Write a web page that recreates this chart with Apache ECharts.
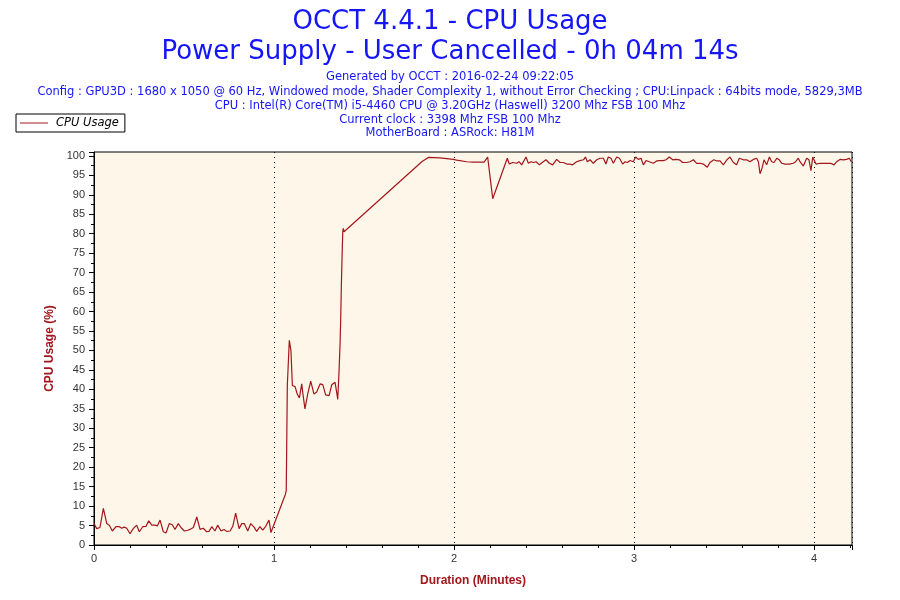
<!doctype html>
<html>
<head>
<meta charset="UTF-8">
<title>OCCT 4.4.1 - CPU Usage</title>
<script src="https://cdn.jsdelivr.net/npm/echarts@6/dist/echarts.min.js"></script>
<style type="text/css">
html,body{margin:0;padding:0;background:#fff;}
#main{width:900px;height:600px;}
</style>
</head>
<body>
<div id="main"></div>
<script type="text/javascript">
// header text
var titleLines = ['OCCT 4.4.1 - CPU Usage', 'Power Supply - User Cancelled - 0h 04m 14s'];
var infoLines = [
	'Generated by OCCT : 2016-02-24 09:22:05',
	'Config : GPU3D : 1680 x 1050 @ 60 Hz, Windowed mode, Shader Complexity 1, without Error Checking ; CPU:Linpack : 64bits mode, 5829,3MB',
	'CPU : Intel(R) Core(TM) i5-4460 CPU @ 3.20GHz (Haswell) 3200 Mhz FSB 100 Mhz',
	'Current clock : 3398 Mhz FSB 100 Mhz',
	'MotherBoard : ASRock: H81M'
];
var seriesName = 'CPU Usage';

// duration in minutes / cpu usage in %
var durationMin = [
	0.000, 0.015, 0.033, 0.052, 0.071, 0.085, 0.102, 0.122, 0.141, 0.154,
	0.168, 0.182, 0.200, 0.218, 0.237, 0.252, 0.271, 0.289, 0.304, 0.321,
	0.339, 0.352, 0.367, 0.385, 0.400, 0.418, 0.435, 0.450, 0.468, 0.483,
	0.502, 0.521, 0.533, 0.552, 0.571, 0.589, 0.607, 0.626, 0.639, 0.654,
	0.672, 0.687, 0.706, 0.722, 0.737, 0.756, 0.771, 0.787, 0.806, 0.821,
	0.835, 0.854, 0.871, 0.889, 0.904, 0.922, 0.937, 0.954, 0.972, 0.983,
	0.993, 1.063, 1.068, 1.074, 1.085, 1.094, 1.102, 1.117, 1.129, 1.141,
	1.154, 1.163, 1.172, 1.187, 1.204, 1.222, 1.237, 1.256, 1.271, 1.287,
	1.306, 1.321, 1.339, 1.348, 1.354, 1.361, 1.367, 1.371, 1.374, 1.378,
	1.382, 1.385, 1.389, 1.821, 1.857, 1.922, 1.996, 2.015, 2.071, 2.107,
	2.167, 2.187, 2.215, 2.222, 2.289, 2.296, 2.307, 2.326, 2.348, 2.361,
	2.376, 2.400, 2.413, 2.428, 2.441, 2.456, 2.474, 2.496, 2.511, 2.530,
	2.548, 2.570, 2.589, 2.607, 2.626, 2.644, 2.659, 2.667, 2.681, 2.700,
	2.719, 2.730, 2.741, 2.756, 2.774, 2.793, 2.811, 2.830, 2.844, 2.857,
	2.872, 2.885, 2.904, 2.919, 2.937, 2.950, 2.963, 2.978, 2.996, 3.009,
	3.024, 3.039, 3.052, 3.067, 3.085, 3.107, 3.126, 3.144, 3.163, 3.178,
	3.196, 3.215, 3.233, 3.252, 3.270, 3.293, 3.311, 3.330, 3.348, 3.367,
	3.385, 3.407, 3.422, 3.444, 3.459, 3.478, 3.496, 3.518, 3.533, 3.552,
	3.570, 3.585, 3.607, 3.626, 3.644, 3.663, 3.681, 3.691, 3.700, 3.711,
	3.722, 3.737, 3.752, 3.765, 3.778, 3.793, 3.807, 3.821, 3.839, 3.863,
	3.885, 3.898, 3.913, 3.922, 3.941, 3.959, 3.972, 3.983, 3.993, 4.000,
	4.011, 4.019, 4.033, 4.070, 4.093, 4.111, 4.126, 4.144, 4.163, 4.181,
	4.196, 4.207
];
var cpuUsage = [
	5.5, 4.2, 4.5, 9.4, 5.5, 5.1, 3.6, 4.7, 4.7, 4.3,
	4.6, 4.3, 2.9, 4.2, 5.1, 3.4, 4.7, 4.8, 6.2, 5.1,
	5.1, 4.9, 6.4, 3.4, 3.1, 5.5, 5.2, 4.0, 5.5, 4.5,
	3.6, 3.8, 4.0, 4.5, 7.2, 4.0, 4.3, 3.4, 3.5, 4.7,
	3.6, 5.1, 3.6, 4.0, 3.5, 3.6, 4.8, 8.2, 4.2, 5.5,
	5.5, 3.6, 5.5, 4.6, 3.5, 4.7, 3.8, 4.8, 6.4, 3.2,
	2.8, 13.0, 14.0, 41.0, 52.6, 50.0, 41.0, 40.7, 38.8, 37.8,
	41.4, 38.0, 35.0, 38.8, 42.1, 38.8, 39.3, 41.4, 41.2, 38.6,
	38.4, 41.2, 41.8, 39.3, 37.4, 44.3, 51.7, 59.0, 66.3, 74.0,
	80.5, 81.4, 80.5, 98.5, 99.6, 99.5, 99.1, 98.9, 98.5, 98.4,
	98.4, 99.7, 89.0, 89.1, 98.5, 99.4, 97.9, 98.3, 98.1, 98.5,
	97.7, 99.7, 98.1, 98.5, 98.3, 98.5, 97.7, 98.5, 99.0, 98.1,
	97.7, 99.1, 98.3, 98.3, 97.9, 97.9, 97.7, 97.2, 98.5, 98.8,
	99.0, 99.7, 98.5, 99.0, 98.1, 99.0, 99.4, 99.4, 97.9, 99.7,
	99.4, 98.1, 99.7, 99.4, 97.9, 98.5, 98.3, 98.8, 98.5, 99.7,
	99.1, 99.4, 97.7, 98.8, 98.5, 98.1, 98.7, 98.8, 98.8, 99.0,
	99.7, 99.0, 99.1, 99.0, 98.3, 98.3, 98.5, 99.0, 98.1, 98.1,
	97.9, 97.1, 98.3, 99.0, 98.7, 98.7, 97.7, 99.1, 99.7, 98.3,
	97.7, 99.4, 99.0, 99.0, 98.5, 99.1, 99.4, 98.5, 95.4, 96.8,
	99.0, 97.7, 99.7, 98.5, 98.3, 99.4, 99.0, 98.1, 97.9, 97.9,
	98.1, 98.5, 99.4, 98.5, 97.4, 99.4, 99.0, 96.2, 99.7, 99.0,
	97.9, 98.3, 98.1, 98.1, 98.1, 97.7, 98.5, 99.1, 99.0, 99.1,
	99.4, 98.5
];

// axes
var xMax = 4.211;
var yMax = 101;
var yLabelValues = [0, 5, 10, 15, 20, 25, 30, 35, 40, 45, 50, 55, 60, 65, 70, 75, 80, 85, 90, 95, 100];

var lineColor = '#a3161c';
var blue = '#1515f5';

var chart = echarts.init(document.getElementById('main'), null, {renderer: 'canvas'});

var titles = [];
titles.push({text: titleLines[0], left: 'center', top: 4,
	textStyle: {fontFamily: 'DejaVu Sans', fontSize: 26, fontWeight: 'normal', color: blue}});
titles.push({text: titleLines[1], left: 'center', top: 34,
	textStyle: {fontFamily: 'DejaVu Sans', fontSize: 26, fontWeight: 'normal', color: blue}});
var infoTop = [71, 86, 100, 114, 127];
for (var i = 0; i < infoLines.length; i++) {
	titles.push({text: infoLines[i], left: 'center', top: infoTop[i], padding: 0,
		textStyle: {fontFamily: 'DejaVu Sans', fontSize: 11.5, fontWeight: 'normal', color: blue}});
}

var data = [];
for (var j = 0; j < durationMin.length; j++) {
	data.push([durationMin[j], cpuUsage[j]]);
}

var option = {
	animation: false,
	backgroundColor: '#fff',
	title: titles,
	legend: {
		show: true,
		left: 16, top: 114,
		orient: 'horizontal',
		backgroundColor: '#fff',
		borderColor: '#000', borderWidth: 1, borderRadius: 0,
		padding: [3, 6, 3, 4],
		itemWidth: 28, itemHeight: 1,
		icon: 'rect',
		textStyle: {fontFamily: 'DejaVu Sans', fontSize: 11.5, fontStyle: 'italic', color: '#000', padding: [0, 0, 0, 3]},
		data: [seriesName]
	},
	grid: {
		left: 94, right: 48, top: 152, bottom: 55,
		show: true, backgroundColor: '#fdf6e9', borderColor: '#000', borderWidth: 1
	},
	xAxis: {
		type: 'value', min: 0, max: xMax, interval: 1,
		name: 'Duration (Minutes)', nameLocation: 'middle', nameGap: 30,
		nameTextStyle: {fontFamily: 'Liberation Sans', fontSize: 12, fontWeight: 'bold', color: lineColor},
		axisLine: {lineStyle: {color: '#000', width: 1}},
		axisTick: {length: 5, lineStyle: {color: '#000'}},
		minorTick: {show: true, splitNumber: 5, length: 3, lineStyle: {color: '#000'}},
		axisLabel: {fontFamily: 'Liberation Sans', fontSize: 11, color: '#333', margin: 8, showMaxLabel: false},
		splitLine: {show: true, lineStyle: {color: '#000', width: 1, type: [1, 4]}}
	},
	yAxis: {
		type: 'value', min: 0, max: yMax, interval: 5,
		name: 'CPU Usage (%)', nameLocation: 'middle', nameGap: 38, nameRotate: 90,
		nameTextStyle: {fontFamily: 'Liberation Sans', fontSize: 12, fontWeight: 'bold', color: lineColor},
		axisLine: {show: true, lineStyle: {color: '#000', width: 1}},
		axisTick: {length: 5, lineStyle: {color: '#000'}},
		minorTick: {show: true, splitNumber: 2, length: 3, lineStyle: {color: '#000'}},
		axisLabel: {fontFamily: 'Liberation Sans', fontSize: 11, color: '#333', margin: 9,
			customValues: yLabelValues},
		splitLine: {show: false}
	},
	series: [{
		name: seriesName,
		type: 'line',
		data: data,
		symbol: 'none',
		lineStyle: {color: lineColor, width: 1.2},
		itemStyle: {color: lineColor}
	}]
};
chart.setOption(option);
</script>
</body>
</html>
